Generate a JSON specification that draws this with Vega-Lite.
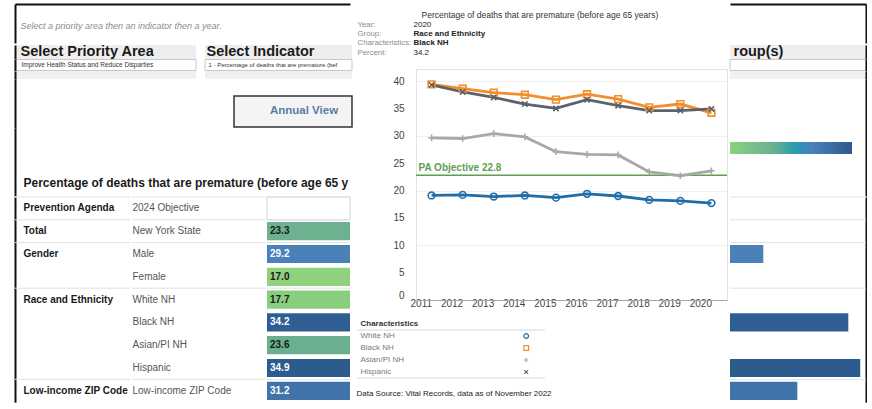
{
  "$schema": "https://vega.github.io/schema/vega-lite/v6.json",
  "background": "white",
  "padding": {"left": 14, "top": 4, "right": 0, "bottom": 0},
  "config": {
    "font": "Liberation Sans",
    "view": {"stroke": null},
    "axis": {"domain": false, "ticks": false, "grid": false}
  },
  "datasets": {
    "table": [
      {"group": "Prevention Agenda", "sub": "2024 Objective", "value": null},
      {"group": "Total", "sub": "New York State", "value": 23.3},
      {"group": "Gender", "sub": "Male", "value": 29.2},
      {"group": "Gender", "sub": "Female", "value": 17.0},
      {"group": "Race and Ethnicity", "sub": "White NH", "value": 17.7},
      {"group": "Race and Ethnicity", "sub": "Black NH", "value": 34.2},
      {"group": "Race and Ethnicity", "sub": "Asian/PI NH", "value": 23.6},
      {"group": "Race and Ethnicity", "sub": "Hispanic", "value": 34.9},
      {"group": "Low-income ZIP Code", "sub": "Low-income ZIP Code", "value": 31.2}
    ],
    "trend": [
      {"year": 2011, "characteristic": "White NH", "percent": 19.1},
      {"year": 2012, "characteristic": "White NH", "percent": 19.2},
      {"year": 2013, "characteristic": "White NH", "percent": 18.9},
      {"year": 2014, "characteristic": "White NH", "percent": 19.1},
      {"year": 2015, "characteristic": "White NH", "percent": 18.7},
      {"year": 2016, "characteristic": "White NH", "percent": 19.4},
      {"year": 2017, "characteristic": "White NH", "percent": 19.0},
      {"year": 2018, "characteristic": "White NH", "percent": 18.3},
      {"year": 2019, "characteristic": "White NH", "percent": 18.1},
      {"year": 2020, "characteristic": "White NH", "percent": 17.7},
      {"year": 2011, "characteristic": "Black NH", "percent": 39.4},
      {"year": 2012, "characteristic": "Black NH", "percent": 38.6},
      {"year": 2013, "characteristic": "Black NH", "percent": 37.9},
      {"year": 2014, "characteristic": "Black NH", "percent": 37.5},
      {"year": 2015, "characteristic": "Black NH", "percent": 36.6},
      {"year": 2016, "characteristic": "Black NH", "percent": 37.6},
      {"year": 2017, "characteristic": "Black NH", "percent": 36.7},
      {"year": 2018, "characteristic": "Black NH", "percent": 35.2},
      {"year": 2019, "characteristic": "Black NH", "percent": 35.8},
      {"year": 2020, "characteristic": "Black NH", "percent": 34.2},
      {"year": 2011, "characteristic": "Asian/PI NH", "percent": 29.6},
      {"year": 2012, "characteristic": "Asian/PI NH", "percent": 29.5},
      {"year": 2013, "characteristic": "Asian/PI NH", "percent": 30.4},
      {"year": 2014, "characteristic": "Asian/PI NH", "percent": 29.8},
      {"year": 2015, "characteristic": "Asian/PI NH", "percent": 27.1},
      {"year": 2016, "characteristic": "Asian/PI NH", "percent": 26.6},
      {"year": 2017, "characteristic": "Asian/PI NH", "percent": 26.5},
      {"year": 2018, "characteristic": "Asian/PI NH", "percent": 23.4},
      {"year": 2019, "characteristic": "Asian/PI NH", "percent": 22.7},
      {"year": 2020, "characteristic": "Asian/PI NH", "percent": 23.6},
      {"year": 2011, "characteristic": "Hispanic", "percent": 39.3},
      {"year": 2012, "characteristic": "Hispanic", "percent": 38.0},
      {"year": 2013, "characteristic": "Hispanic", "percent": 37.0},
      {"year": 2014, "characteristic": "Hispanic", "percent": 35.8},
      {"year": 2015, "characteristic": "Hispanic", "percent": 35.0},
      {"year": 2016, "characteristic": "Hispanic", "percent": 36.6},
      {"year": 2017, "characteristic": "Hispanic", "percent": 35.5},
      {"year": 2018, "characteristic": "Hispanic", "percent": 34.6},
      {"year": 2019, "characteristic": "Hispanic", "percent": 34.6},
      {"year": 2020, "characteristic": "Hispanic", "percent": 34.9}
    ],
    "tip": [
      {"key": "Year:", "val": "2020"},
      {"key": "Group:", "val": "Race and Ethnicity"},
      {"key": "Characteristics:", "val": "Black NH"},
      {"key": "Percent:", "val": "34.2"}
    ],
    "objective": [{"label": "PA Objective 22.8", "value": 22.8}]
  },
  "spacing": 3,
  "resolve": {"scale": {"fill": "independent"}},
  "hconcat": [
    {
      "spacing": 0,
      "resolve": {"scale": {"fill": "independent"}},
      "vconcat": [
        {
          "width": 335, "height": 39,
          "data": {"values": [{"t": "Select a priority area then an indicator then a year."}]},
          "mark": {"type": "rect", "opacity": 0},
          "encoding": {
            "x": {"datum": "frame", "type": "nominal", "scale": {"paddingInner": 0, "paddingOuter": 0},
              "axis": {"orient": "top", "title": null, "labels": false, "domain": true, "domainColor": "#111111", "domainWidth": 2}},
            "y": {"field": "t", "type": "nominal", "scale": {"paddingInner": 0, "paddingOuter": 0},
              "axis": {"title": null, "labelAlign": "left", "labelPadding": -5, "labelOffset": 2.5, "labelFontSize": 9, "labelFontStyle": "italic", "labelColor": "#8c8c8c", "labelLimit": 330, "domain": true, "domainColor": "#111111", "domainWidth": 2}}
          }
        },
        {
          "spacing": 7,
          "hconcat": [
            {
              "spacing": 0,
              "vconcat": [
                {
                  "width": 181, "height": 14,
                  "data": {"values": [{"t": "Select Priority Area"}]},
                  "mark": {"type": "rect", "fill": "#eeeeee"},
                  "encoding": {"y": {"field": "t", "type": "nominal", "scale": {"paddingInner": 0, "paddingOuter": 0},
                    "axis": {"title": null, "labelAlign": "left", "labelPadding": -5, "labelFontSize": 14.5, "labelFontWeight": "bold", "labelColor": "#1a1a1a", "labelLimit": 175, "domain": true, "domainColor": "#111111", "domainWidth": 2}}}
                },
                {
                  "width": 181, "height": 12,
                  "data": {"values": [{"t": "Improve Health Status and Reduce Disparties"}]},
                  "mark": {"type": "rect", "fill": "white", "stroke": "#c8c8c8", "strokeWidth": 1},
                  "encoding": {"y": {"field": "t", "type": "nominal", "scale": {"paddingInner": 0, "paddingOuter": 0.05},
                    "axis": {"title": null, "labelAlign": "left", "labelPadding": -6, "labelFontSize": 6.5, "labelColor": "#333333", "labelLimit": 170, "domain": true, "domainColor": "#111111", "domainWidth": 2}}}
                },
                {
                  "width": 181, "height": 8,
                  "data": {"values": [{"t": "Improve Health Status and Reduce Disparties"}]},
                  "mark": {"type": "rect", "fill": "#f0f0f0"},
                  "encoding": {"y": {"field": "t", "type": "nominal", "scale": {"paddingInner": 0, "paddingOuter": 0},
                    "axis": {"title": null, "labels": false, "domain": true, "domainColor": "#111111", "domainWidth": 2}}}
                },
                {
                  "width": 181, "height": 49,
                  "data": {"values": [{"t": "Improve Health Status and Reduce Disparties"}]},
                  "mark": {"type": "rect", "opacity": 0},
                  "encoding": {"y": {"field": "t", "type": "nominal", "scale": {"paddingInner": 0, "paddingOuter": 0},
                    "axis": {"title": null, "labels": false, "domain": true, "domainColor": "#111111", "domainWidth": 2}}}
                }
              ]
            },
            {
              "spacing": 0,
              "vconcat": [
                {
                  "width": 147, "height": 14,
                  "data": {"values": [{"t": "Select Indicator"}]},
                  "mark": {"type": "rect", "fill": "#eeeeee"},
                  "encoding": {"y": {"field": "t", "type": "nominal", "scale": {"paddingInner": 0, "paddingOuter": 0},
                    "axis": {"title": null, "labelAlign": "left", "labelPadding": -1, "labelFontSize": 14.5, "labelFontWeight": "bold", "labelColor": "#1a1a1a", "labelLimit": 145}}}
                },
                {
                  "width": 147, "height": 12,
                  "data": {"values": [{"t": "1 - Percentage of deaths that are premature (bef"}]},
                  "mark": {"type": "rect", "fill": "white", "stroke": "#c8c8c8", "strokeWidth": 1},
                  "encoding": {"y": {"field": "t", "type": "nominal", "scale": {"paddingInner": 0, "paddingOuter": 0.05},
                    "axis": {"title": null, "labelAlign": "left", "labelPadding": -3, "labelFontSize": 6, "labelColor": "#333333", "labelLimit": 140}}}
                },
                {
                  "width": 147, "height": 8,
                  "data": {"values": [{"t": "1 - Percentage of deaths that are premature (bef"}]},
                  "mark": {"type": "rect", "fill": "#f0f0f0"},
                  "encoding": {"y": {"field": "t", "type": "nominal", "scale": {"paddingInner": 0, "paddingOuter": 0}, "axis": null}}
                },
                {
                  "width": 147, "height": 49,
                  "data": {"values": [{"t": "Annual View"}]},
                  "encoding": {
                    "x": {"field": "t", "type": "nominal", "scale": {"paddingInner": 0, "paddingOuter": 0.1229, "align": 1}, "axis": null},
                    "y": {"field": "t", "type": "nominal", "scale": {"paddingInner": 0, "paddingOuter": 0.2903, "align": 0.944}, "axis": null}
                  },
                  "layer": [
                    {"mark": {"type": "rect", "fill": "#f4f4f4", "stroke": "#333333", "strokeWidth": 1.5}},
                    {"mark": {"type": "text", "fontSize": 11.5, "fontWeight": "bold", "color": "#5a7ca6", "dx": 11}, "encoding": {"text": {"field": "t"}}}
                  ]
                }
              ]
            }
          ]
        },
        {
          "width": 335, "height": 68,
          "data": {"values": [{"t": "Percentage of deaths that are premature (before age 65 y"}]},
          "mark": {"type": "rect", "opacity": 0},
          "encoding": {"y": {"field": "t", "type": "nominal", "scale": {"paddingInner": 0, "paddingOuter": 0.8077, "align": 1},
            "axis": {"title": null, "labelAlign": "left", "labelPadding": -8, "labelFontSize": 12, "labelFontWeight": "bold", "labelColor": "#1a1a1a", "labelLimit": 330, "domain": true, "domainColor": "#111111", "domainWidth": 2}}}
        },
        {
          "spacing": 0,
          "resolve": {"scale": {"fill": "independent"}},
          "hconcat": [
            {
              "width": 115, "height": 205.2,
              "data": {"name": "table"},
              "transform": [
                {"window": [{"op": "row_number", "as": "rn"}], "groupby": ["group"]},
                {"calculate": "(datum.rn == 1 ? datum.group : '') + '|' + datum.sub", "as": "key"}
              ],
              "mark": {"type": "rule", "color": "#e1e1e1", "strokeWidth": 1},
              "encoding": {
                "y": {"field": "key", "type": "nominal", "sort": null, "bandPosition": 0, "scale": {"paddingInner": 0, "paddingOuter": 0},
                  "axis": {"title": null, "labelExpr": "split(datum.value, '|')[0]", "labelAlign": "left", "labelPadding": -8, "labelFontSize": 10, "labelFontWeight": "bold", "labelColor": "#1a1a1a", "labelLimit": 110, "domain": true, "domainColor": "#111111", "domainWidth": 2}},
                "strokeOpacity": {"condition": {"test": "datum.rn == 1", "value": 1}, "value": 0}
              }
            },
            {
              "width": 133, "height": 205.2,
              "data": {"name": "table"},
              "transform": [{"window": [{"op": "row_number", "as": "rn"}], "groupby": ["group"]}],
              "mark": {"type": "rule", "color": "#e1e1e1", "strokeWidth": 1},
              "encoding": {
                "y": {"field": "sub", "type": "nominal", "bandPosition": 0,
                  "scale": {"domain": ["2024 Objective", "New York State", "Male", "Female", "White NH", "Black NH", "Asian/PI NH", "Hispanic", "Low-income ZIP Code"], "paddingInner": 0, "paddingOuter": 0},
                  "axis": {"title": null, "labelAlign": "left", "labelPadding": 0, "labelFontSize": 10, "labelColor": "#555555", "labelLimit": 130}},
                "strokeOpacity": {"condition": {"test": "datum.rn == 1", "value": 1}, "value": 0}
              }
            },
            {
              "width": 83, "height": 205.2,
              "data": {"name": "table"},
              "transform": [{"window": [{"op": "row_number", "as": "rn"}], "groupby": ["group"]}],
              "encoding": {
                "y": {"field": "sub", "type": "nominal",
                  "scale": {"domain": ["2024 Objective", "New York State", "Male", "Female", "White NH", "Black NH", "Asian/PI NH", "Hispanic", "Low-income ZIP Code"], "paddingInner": 0, "paddingOuter": 0},
                  "axis": null}
              },
              "layer": [
                {
                  "mark": {"type": "rule", "color": "#e1e1e1"},
                  "encoding": {
                    "y": {"field": "sub", "type": "nominal", "bandPosition": 0, "axis": null},
                    "strokeOpacity": {"condition": {"test": "datum.rn == 1", "value": 1}, "value": 0}
                  }
                },
                {
                  "transform": [{"filter": "datum.value == null"}],
                  "mark": {"type": "rect", "fill": "white", "stroke": "#d6d6d6"}
                },
                {
                  "mark": {"type": "bar", "height": {"band": 0.8}, "clip": true},
                  "encoding": {
                    "x": {"field": "value", "type": "quantitative", "scale": {"domain": [0, 4.88], "nice": false}, "axis": null},
                    "fill": {"field": "value", "type": "quantitative", "scale": {"domain": [17, 23.5, 29, 35], "range": ["#8fd17c", "#6db08f", "#4b82ba", "#2b5a8c"]}, "legend": null}
                  }
                },
                {
                  "transform": [{"filter": "datum.value != null"}],
                  "mark": {"type": "text", "align": "left", "dx": 3, "fontSize": 10, "fontWeight": "bold"},
                  "encoding": {
                    "x": {"datum": 0, "type": "quantitative"},
                    "text": {"field": "value", "type": "quantitative", "format": ".1f"},
                    "color": {"condition": {"test": "datum.value > 28", "value": "white"}, "value": "#1a1a1a"}
                  }
                }
              ]
            }
          ]
        }
      ]
    },
    {
      "spacing": 0,
      "resolve": {"scale": {"fill": "independent"}},
      "hconcat": [
        {
          "spacing": 0,
          "vconcat": [
            {
              "width": 363, "height": 15.65,
              "data": {"values": [{"t": "Percentage of deaths that are premature (before age 65 years)"}]},
              "mark": {"type": "rect", "opacity": 0},
              "encoding": {"y": {"field": "t", "type": "nominal", "scale": {"paddingInner": 0, "paddingOuter": 0.341, "align": 1},
                "axis": {"title": null, "labelAlign": "left", "labelPadding": -64, "labelFontSize": 8.5, "labelColor": "#333333", "labelLimit": 295}}}
            },
            {
              "spacing": 0,
              "hconcat": [
                {
                  "width": 56, "height": 47.35,
                  "data": {"name": "tip"},
                  "mark": {"type": "rect", "opacity": 0},
                  "encoding": {"y": {"field": "key", "type": "nominal", "sort": null, "scale": {"paddingInner": 0, "paddingOuter": 0.546, "align": 0},
                    "axis": {"title": null, "labelAlign": "left", "labelPadding": 0, "labelFontSize": 7.8, "labelColor": "#8c8c8c", "labelLimit": 56}}}
                },
                {
                  "width": 307, "height": 47.35,
                  "data": {"name": "tip"},
                  "mark": {"type": "rect", "opacity": 0},
                  "encoding": {"y": {"field": "val", "type": "nominal", "sort": null, "scale": {"paddingInner": 0, "paddingOuter": 0.546, "align": 0},
                    "axis": {"title": null, "labelAlign": "left", "labelPadding": 0, "labelFontSize": 8, "labelColor": "#222222",
                      "labelFontWeight": {"condition": {"test": "datum.value == 'Race and Ethnicity' || datum.value == 'Black NH'", "value": "bold"}, "value": "normal"},
                      "labelLimit": 300}}}
                }
              ]
            },
            {
              "spacing": 0,
              "hconcat": [
                {
                  "width": 52, "height": 231,
                  "data": {"name": "objective"},
                  "mark": {"type": "rule", "strokeOpacity": 0},
                  "encoding": {
                    "y": {"field": "value", "type": "quantitative", "scale": {"domain": [0, 42.2], "nice": false},
                      "axis": {"title": null, "values": [0, 5, 10, 15, 20, 25, 30, 35, 40], "labelPadding": -47, "labelFlush": true, "labelFontSize": 10, "labelColor": "#444444"}}
                  }
                },
                {
                  "width": 311, "height": 231,
                  "view": {"stroke": "#e3e3e3"},
                  "layer": [
                    {
                      "data": {"name": "objective"},
                      "mark": {"type": "rule", "color": "#5e9e52", "strokeWidth": 1.5},
                      "encoding": {
                        "y": {"field": "value", "type": "quantitative", "scale": {"domain": [0, 42.2], "nice": false},
                          "axis": {"title": null, "values": [0, 5, 10, 15, 20, 25, 30, 35, 40], "grid": true, "gridColor": "#efefef", "labels": false}}
                      }
                    },
                    {
                      "data": {"name": "objective"},
                      "mark": {"type": "text", "align": "left", "baseline": "bottom", "dx": -13, "dy": -2, "fontSize": 10, "fontWeight": "bold", "color": "#5e9e52"},
                      "encoding": {
                        "x": {"datum": 2011, "type": "ordinal"},
                        "y": {"field": "value", "type": "quantitative"},
                        "text": {"field": "label"}
                      }
                    },
                    {
                      "data": {"name": "trend"},
                      "mark": {"type": "line", "strokeWidth": 2.8},
                      "encoding": {
                        "x": {"field": "year", "type": "ordinal", "scale": {"type": "point", "padding": 0.5},
                          "axis": {"title": null, "labelAngle": 0, "domain": true, "domainColor": "#a6a6a6", "labelPadding": 3, "labelFontSize": 10, "labelColor": "#444444"}},
                        "y": {"field": "percent", "type": "quantitative"},
                        "color": {"field": "characteristic", "type": "nominal",
                          "scale": {"domain": ["White NH", "Black NH", "Asian/PI NH", "Hispanic"], "range": ["#1f6eaa", "#f28e2b", "#a8a8a8", "#5c626b"]}, "legend": null}
                      }
                    },
                    {
                      "data": {"name": "trend"},
                      "mark": {"type": "point", "filled": false, "size": 45, "strokeWidth": 1.6, "opacity": 1},
                      "encoding": {
                        "x": {"field": "year", "type": "ordinal"},
                        "y": {"field": "percent", "type": "quantitative"},
                        "color": {"field": "characteristic", "type": "nominal", "legend": null},
                        "shape": {"field": "characteristic", "type": "nominal",
                          "scale": {"domain": ["White NH", "Black NH", "Asian/PI NH", "Hispanic"], "range": ["circle", "square", "M-1,0L1,0M0,-1L0,1", "M-0.8,-0.8L0.8,0.8M-0.8,0.8L0.8,-0.8"]}, "legend": null}
                      }
                    }
                  ]
                }
              ]
            },
            {
              "width": 188, "height": 69,
              "data": {"name": "trend"},
              "transform": [{"aggregate": [{"op": "count", "as": "n"}], "groupby": ["characteristic"]}],
              "title": {"text": "Data Source: Vital Records, data as of November 2022", "orient": "bottom", "anchor": "start", "frame": "bounds", "fontSize": 8, "fontWeight": "normal", "color": "#222222", "offset": 11},
              "encoding": {
                "y": {"field": "characteristic", "type": "nominal",
                  "scale": {"domain": ["Characteristics", "White NH", "Black NH", "Asian/PI NH", "Hispanic"], "paddingInner": 0, "paddingOuter": 0.375, "align": 1},
                  "axis": {"title": null, "labelAlign": "left", "labelPadding": -3, "labelFontSize": 8,
                    "labelFontWeight": {"condition": {"test": "datum.value == 'Characteristics'", "value": "bold"}, "value": "normal"},
                    "labelColor": {"condition": {"test": "datum.value == 'Characteristics'", "value": "#333333"}, "value": "#7a7a7a"}}}
              },
              "layer": [
                {
                  "mark": {"type": "point", "filled": false, "size": 22, "strokeWidth": 1.2, "opacity": 1},
                  "encoding": {
                    "x": {"datum": "symbol", "type": "nominal", "scale": {"type": "point", "padding": 0, "align": 0.9}, "axis": null},
                    "color": {"field": "characteristic", "type": "nominal", "legend": null},
                    "shape": {"field": "characteristic", "type": "nominal", "legend": null}
                  }
                },
                {
                  "transform": [{"filter": "datum.characteristic == 'White NH'"}],
                  "mark": {"type": "rule", "color": "#d5d5d5"},
                  "encoding": {"y": {"field": "characteristic", "type": "nominal", "bandPosition": 0}}
                },
                {
                  "transform": [{"filter": "datum.characteristic == 'Hispanic'"}],
                  "mark": {"type": "rule", "color": "#d5d5d5"},
                  "encoding": {"y": {"field": "characteristic", "type": "nominal", "bandPosition": 1}}
                }
              ]
            }
          ]
        },
        {
          "spacing": 0,
          "resolve": {"scale": {"fill": "independent"}},
          "vconcat": [
            {
              "width": 136, "height": 39,
              "data": {"values": [{"t": "roup(s)"}]},
              "mark": {"type": "rect", "opacity": 0},
              "encoding": {
                "x": {"datum": "frame", "type": "nominal", "scale": {"paddingInner": 0, "paddingOuter": 0},
                  "axis": {"orient": "top", "title": null, "labels": false, "domain": true, "domainColor": "#111111", "domainWidth": 2}},
                "y": {"field": "t", "type": "nominal", "scale": {"paddingInner": 0, "paddingOuter": 0},
                  "axis": {"orient": "right", "title": null, "labels": false, "domain": true, "domainColor": "#111111", "domainWidth": 2}}
              }
            },
            {
              "width": 136, "height": 14,
              "data": {"values": [{"t": "roup(s)"}]},
              "mark": {"type": "rect", "fill": "#eeeeee"},
              "encoding": {
                "y": {"field": "t", "type": "nominal", "scale": {"paddingInner": 0, "paddingOuter": 0},
                  "axis": {"orient": "right", "title": null, "labelAlign": "left", "labelPadding": -133, "labelFontSize": 14.5, "labelFontWeight": "bold", "labelColor": "#1a1a1a", "labelLimit": 130, "domain": true, "domainColor": "#111111", "domainWidth": 2}}
              }
            },
            {
              "width": 136, "height": 12,
              "data": {"values": [{"t": "roup(s)"}]},
              "mark": {"type": "rect", "fill": "white", "stroke": "#c8c8c8", "strokeWidth": 1},
              "encoding": {"y": {"field": "t", "type": "nominal", "scale": {"paddingInner": 0, "paddingOuter": 0.05},
                "axis": {"orient": "right", "title": null, "labels": false, "domain": true, "domainColor": "#111111", "domainWidth": 2}}}
            },
            {
              "width": 136, "height": 8,
              "data": {"values": [{"t": "roup(s)"}]},
              "mark": {"type": "rect", "fill": "#f0f0f0"},
              "encoding": {"y": {"field": "t", "type": "nominal", "scale": {"paddingInner": 0, "paddingOuter": 0},
                "axis": {"orient": "right", "title": null, "labels": false, "domain": true, "domainColor": "#111111", "domainWidth": 2}}}
            },
            {
              "width": 136, "height": 117,
              "data": {"name": "table"},
              "mark": {"type": "rect", "opacity": 0},
              "encoding": {
                "y": {"datum": "frame", "type": "nominal", "scale": {"paddingInner": 0, "paddingOuter": 0},
                  "axis": {"orient": "right", "title": null, "labels": false, "domain": true, "domainColor": "#111111", "domainWidth": 2}},
                "fill": {"field": "value", "type": "quantitative", "scale": {"domain": [17, 23.5, 29, 35], "range": ["#8fd17c", "#6db08f", "#4b82ba", "#2b5a8c"]},
                  "legend": {"orient": "none", "legendX": 0, "legendY": 63, "direction": "horizontal", "title": null, "gradientLength": 122, "gradientThickness": 12, "gradientStrokeWidth": 0, "labelExpr": "''", "labelFontSize": 1, "labelOffset": 0, "padding": 0}}
              }
            },
            {
              "width": 136, "height": 205.2,
              "data": {"name": "table"},
              "transform": [{"window": [{"op": "row_number", "as": "rn"}], "groupby": ["group"]}],
              "encoding": {
                "y": {"field": "sub", "type": "nominal",
                  "scale": {"domain": ["2024 Objective", "New York State", "Male", "Female", "White NH", "Black NH", "Asian/PI NH", "Hispanic", "Low-income ZIP Code"], "paddingInner": 0, "paddingOuter": 0},
                  "axis": {"orient": "right", "title": null, "labels": false, "domain": true, "domainColor": "#111111", "domainWidth": 2}}
              },
              "layer": [
                {
                  "mark": {"type": "rule", "color": "#e1e1e1"},
                  "encoding": {
                    "y": {"field": "sub", "type": "nominal", "bandPosition": 0},
                    "strokeOpacity": {"condition": {"test": "datum.rn == 1", "value": 1}, "value": 0}
                  }
                },
                {
                  "mark": {"type": "bar", "height": {"band": 0.8}, "clip": true},
                  "encoding": {
                    "x": {"field": "value", "type": "quantitative", "scale": {"domain": [27.24, 35.24], "zero": false, "nice": false}, "axis": null},
                    "fill": {"field": "value", "type": "quantitative", "scale": {"domain": [17, 23.5, 29, 35], "range": ["#8fd17c", "#6db08f", "#4b82ba", "#2b5a8c"]}, "legend": null}
                  }
                }
              ]
            }
          ]
        }
      ]
    }
  ]
}
